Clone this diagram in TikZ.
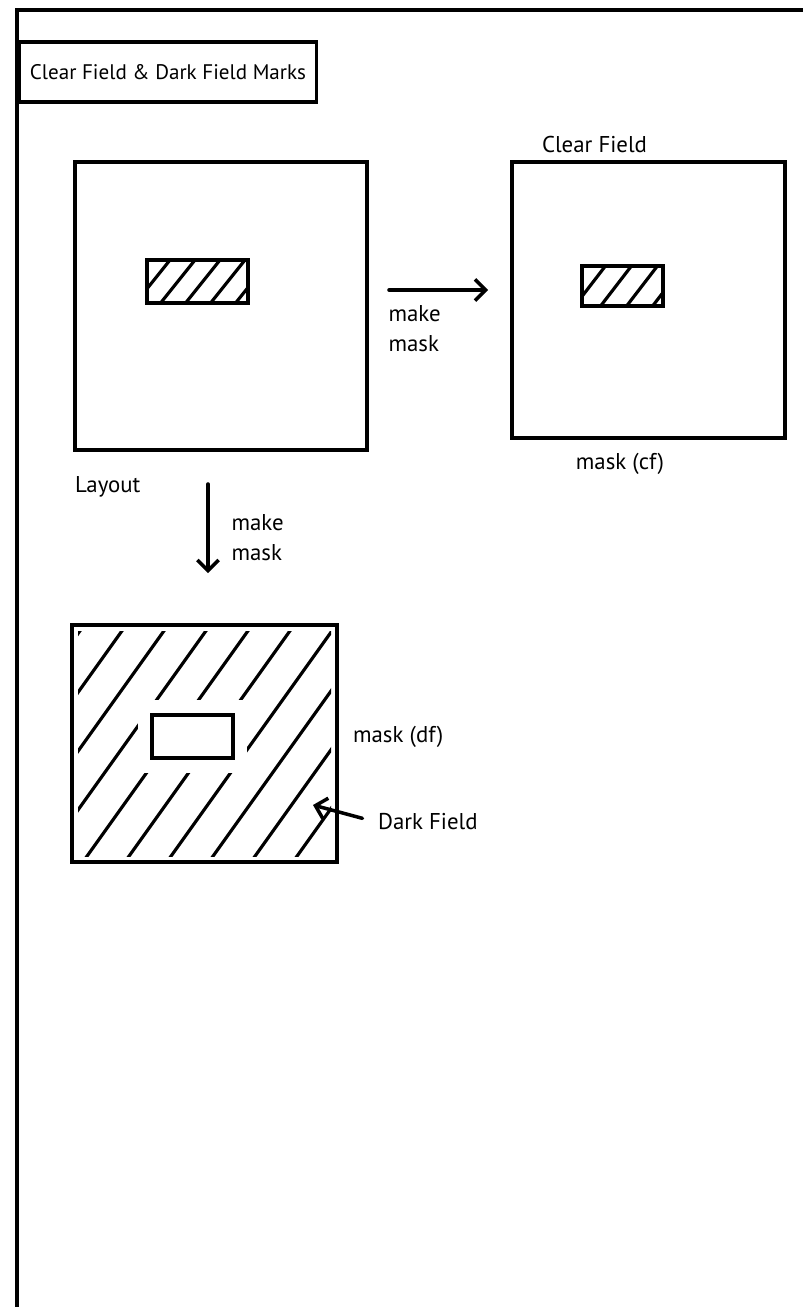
\documentclass[tikz,border=0pt]{standalone}
\usepackage{fontspec}
\setmainfont{PT Sans}
\usetikzlibrary{arrows.meta,positioning}

\begin{document}
\begin{tikzpicture}[x=0.02cm, y=-0.02cm, >={Straight Barb[length=6pt,width=12pt]},
  box/.style={draw, line width=2.3pt, inner sep=0pt},
  hole/.style={draw, line width=2pt, inner sep=0pt, fill=white},
  hatch/.style={line width=1.8pt, line cap=round},
  flow/.style={->, line width=2pt, line cap=round},
  lbl/.style={font=\fontsize{13}{17}\selectfont, inner sep=1pt, align=left}]
\clip (0,0) rectangle (803,1307);
% the sheet edge runs off the page on the right and at the bottom
\draw[line width=2.4pt] (17,10) rectangle (900,1400);
\node[box, line width=2pt, minimum width=5.94cm, minimum height=1.2cm,
  font=\fontsize{12}{14}\selectfont] (title) at (168,72) {Clear Field \& Dark Field Marks};
% layout: a small hatched feature in an empty field
\node[box, minimum width=5.84cm, minimum height=5.76cm] (layout) at (221,306) {};
\node[hole, minimum width=2.02cm, minimum height=0.86cm] (lhole) at (197.5,281.5) {};
\begin{scope}
  \clip (lhole.south west) rectangle (lhole.north east);
  \foreach \x in {130,155,...,255} {\draw[hatch] (\x,310) -- ++(40,-50);}
\end{scope}
\node[lbl, below right=0.45cm and 0cm of layout.south west] (layoutlbl) {Layout};
% clear field mask
\node[box, minimum width=5.46cm, minimum height=5.52cm] (cf) at (648.5,300) {};
\node[hole, minimum width=1.62cm, minimum height=0.8cm] (cfhole) at (622.5,286) {};
\begin{scope}
  \clip (cfhole.south west) rectangle (cfhole.north east);
  \foreach \x in {570,596,...,670} {\draw[hatch] (\x,312) -- ++(40,-52);}
\end{scope}
\node[lbl, above=0.1cm of cf.north, xshift=-1.08cm] (cftitle) {Clear Field};
\node[lbl, below=0.22cm of cf.south, xshift=-0.57cm] (cflbl) {mask (cf)};
\draw[flow] ([yshift=0.32cm]layout.east) -- ([yshift=0.32cm]layout.east -| cf.west)
  [shorten <=0.4cm, shorten >=0.44cm]
  node[lbl, at start, anchor=north west, xshift=0.32cm, yshift=-0.24cm] {make\\mask};
% dark field mask: everything hatched except the feature
\node[box, minimum width=5.3cm, minimum height=4.74cm] (df) at (204.5,743.5) {};
\begin{scope}
  \clip ([shift={(8,-8)}]df.south west) rectangle ([shift={(-8,8)}]df.north east);
  \foreach \x in {-140,-98,...,340} {\draw[hatch] (\x,880) -- ++(300,-420);}
\end{scope}
\fill[white] (138,700) rectangle (247,773);
\node[hole, minimum width=1.62cm, minimum height=0.86cm] (dfhole) at (192.5,736.5) {};
\draw[flow] ([xshift=-0.26cm]layout.south) -- ([xshift=-0.26cm]layout.south |- df.north)
  [shorten <=0.64cm, shorten >=1.0cm]
  node[lbl, midway, right=0.4cm] {make\\mask};
\node[lbl, right=0.24cm of df.east, yshift=0.14cm] (dflbl) {mask (df)};
\node[lbl, anchor=west] (dark) at (376,822) {Dark Field};
\coordinate (darktip) at (313,805);
\draw[flow, shorten <=0.28cm] (dark.west) -- (darktip);
\end{tikzpicture}
\end{document}
